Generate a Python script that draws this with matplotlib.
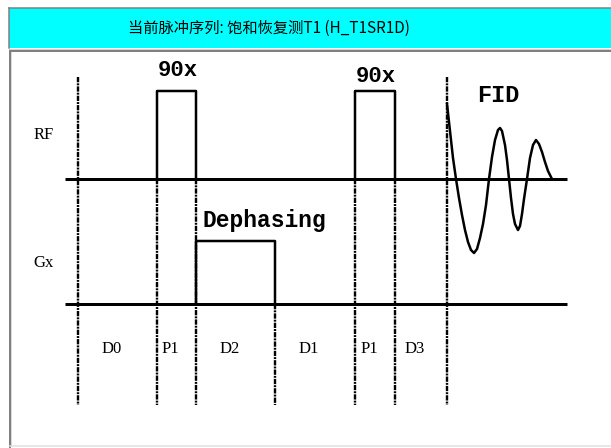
"""
饱和恢复测 T1 脉冲序列示意图 (H_T1SR1D)
"""
import matplotlib.pyplot as plt
from matplotlib.patches import Rectangle

# 时序边界（横向位置）与各段名称
boundaries = [78, 157, 196, 275, 355, 395, 447]
seg_labels = ["D0", "P1", "D2", "D1", "P1", "D3"]
rf_pulse_label = "90x"
grad_label = "Dephasing"
grad_segment = "D2"

# 通道基线与幅度
rf_y, gx_y = 179, 304
rf_amp, grad_amp = 88, 63
channel_names = ["RF", "Gx"]

# FID 信号（采样点：时间、幅度）
fid_t = [447, 449, 451, 453, 456, 459, 462, 465, 468, 471, 474, 477, 480,
         483, 486, 489, 492, 495, 498, 500, 502, 505, 507, 509, 511, 513,
         515, 518, 520, 522, 524, 527, 530, 533, 536, 539, 542, 545, 548, 552]
fid_amp = [75, 57, 39, 21, 0, -19, -36, -51, -63, -71, -74, -70, -59,
           -45, -26, 0, 22, 39, 49, 51, 48, 34, 19, 0, -19, -35,
           -45, -51, -47, -35, -20, 0, 21, 34, 39, 35, 27, 17, 8, 0]

title = "当前脉冲序列: 饱和恢复测T1 (H_T1SR1D)"

px = 0.72  # 1 像素对应的磅数 (dpi=100)

fig = plt.figure(figsize=(6.11, 4.48), dpi=100)
ax = fig.add_axes([0, 0, 1, 1])
ax.set_xlim(0, 611)
ax.set_ylim(448, 0)
ax.axis('off')

# 顶部标题栏
ax.add_patch(Rectangle((9, 8), 602, 40, fc='#00ffff', ec='none'))
ax.plot([8.5, 8.5], [8, 48], color='#7f7f7f', lw=1.5 * px)
ax.plot([8.5, 611], [8, 8], color='#7f7f7f', lw=1.5 * px)
ax.plot([8.5, 611], [49.5, 49.5], color='#d4d4d4', lw=1 * px)
ax.text(269, 28, title, ha='center', va='center', fontsize=11,
        family=['Noto Sans CJK SC', 'DejaVu Sans'])

# 绘图面板边框
ax.plot([9.5, 611], [51.5, 51.5], color='#808080', lw=2 * px)
ax.plot([9.5, 9.5], [51, 447], color='#808080', lw=2 * px)
ax.plot([10.5, 10.5], [52, 446], color='#d8d8d8', lw=1 * px)
ax.plot([9.5, 611], [446.5, 446.5], color='#e0e0e0', lw=1.5 * px)

# 通道基线
x0, x1 = 65, 567
for y in (rf_y, gx_y):
    ax.plot([x0, x1], [y, y], color='black', lw=3 * px, solid_capstyle='butt')
ax.text(44, 135, channel_names[0], ha='center', va='center', fontsize=12,
        family='Liberation Serif')
ax.text(44, 263, channel_names[1], ha='center', va='center', fontsize=12,
        family='Liberation Serif')

# 射频脉冲
rf_edges = []
for i, name in enumerate(seg_labels):
    if name == "P1":
        a, b = boundaries[i], boundaries[i + 1]
        rf_edges += [a, b]
        ax.plot([a, a, b, b], [rf_y, rf_y - rf_amp, rf_y - rf_amp, rf_y],
                color='black', lw=2.5 * px)
        dy = 0 if i < 3 else 6
        ax.text((a + b) / 2 + 1, rf_y - rf_amp - 20 + dy, rf_pulse_label,
                ha='center', va='center', fontsize=16, fontweight='bold',
                family='Liberation Mono')

# 散相梯度
gi = seg_labels.index(grad_segment)
ga, gb = boundaries[gi], boundaries[gi + 1]
ax.plot([ga, ga, gb, gb], [gx_y, gx_y - grad_amp, gx_y - grad_amp, gx_y],
        color='black', lw=2.5 * px)
ax.text(ga + 6, 227, grad_label, ha='left', va='baseline', fontsize=16.5,
        fontweight='bold', family='Liberation Mono')

# FID
ax.plot(fid_t, [rf_y - v for v in fid_amp], color='black', lw=2.5 * px,
        solid_joinstyle='round')
ax.text(498, 96, "FID", ha='center', va='center', fontsize=17,
        fontweight='bold', family='Liberation Mono')

# 时序分隔虚线
for b in boundaries:
    if b in rf_edges:
        top = rf_y
    elif b == gb:
        top = gx_y
    else:
        top = 77
    ax.plot([b, b], [top, 405], color='black', lw=2.4 * px,
            linestyle=(0, (2.2, 0.45, 0.8, 0.45)))

# 各段名称
for i, name in enumerate(seg_labels):
    xc = (boundaries[i] + boundaries[i + 1]) / 2 - 6
    ax.text(xc, 349, name, ha='center', va='center', fontsize=12,
            family='Liberation Serif')

fig.savefig("out.png", dpi=100, facecolor='white')
